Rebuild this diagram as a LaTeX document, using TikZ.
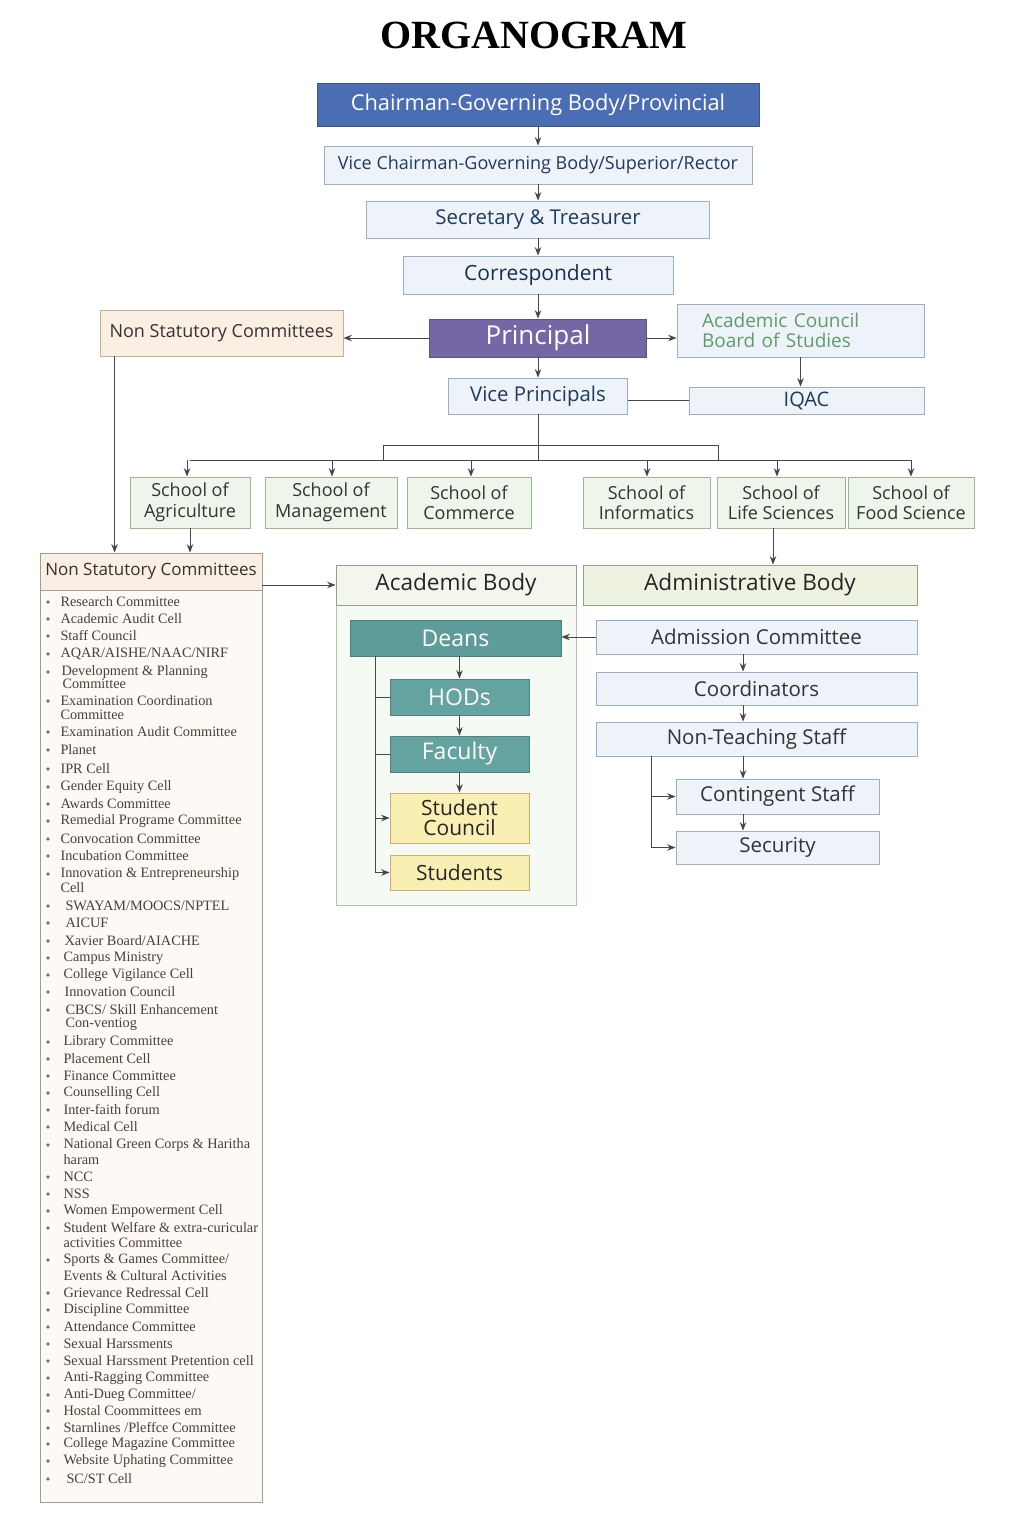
\documentclass[tikz,border=0pt]{standalone}
\usepackage{fontspec}
\setmainfont{Open Sans}
\newfontfamily\listfont{Liberation Serif}
\usepackage{tikz}
\usetikzlibrary{positioning,shapes,arrows,arrows.meta,backgrounds,fit}

\definecolor{chairblue}{HTML}{4A6DB3}
\definecolor{navytext}{HTML}{1F3B5C}
\definecolor{palebox}{HTML}{EEF3F9}
\definecolor{paleline}{HTML}{9AAEC8}
\definecolor{princ}{HTML}{7566A6}
\definecolor{cream}{HTML}{FBEFE4}
\definecolor{tan}{HTML}{C9AD95}
\definecolor{schoolfill}{HTML}{EEF5EA}
\definecolor{schoolline}{HTML}{9AB890}
\definecolor{teal}{HTML}{65A3A1}
\definecolor{tealdark}{HTML}{5E9C9A}
\definecolor{yell}{HTML}{F9EFB3}
\definecolor{yellline}{HTML}{C8B070}
\definecolor{listfill}{HTML}{FDF9F4}
\definecolor{listline}{HTML}{A39C95}
\definecolor{listtext}{HTML}{4A4038}
\definecolor{adminfill}{HTML}{EEF2E0}
\definecolor{acadfill}{HTML}{F4F5EC}
\definecolor{councilgreen}{HTML}{5E9C68}
\definecolor{wire}{HTML}{474747}

\begin{document}
\begin{tikzpicture}[x=1pt, y=-1pt,
    ->,
    >={Stealth[length=8.5pt, width=6.5pt]},
    every path/.style={draw=wire, line width=1pt},
    bb/.style={%
      rectangle, draw=paleline, line width=0.8pt, fill=palebox, text=navytext,
      inner sep=0pt, align=center, font=\fontsize{20}{22}\selectfont
    },
    dark/.style={%
      bb, draw=#1!80!black, fill=#1, text=white
    },
    school/.style={%
      bb, draw=schoolline, fill=schoolfill, text=black!80,
      minimum height=51, font=\fontsize{18}{20.5}\selectfont
    },
    warm/.style={%
      bb, draw=tan, fill=cream, text=black!80, font=\fontsize{18}{20}\selectfont
    },
    sbox/.style={%
      bb, draw=yellline, fill=yell, text=black!85, font=\fontsize{21}{20}\selectfont
    },
    staff/.style={%
      bb, text=black!80, font=\fontsize{20.5}{22}\selectfont
    },
    item/.style={%
      anchor=west, inner sep=0pt, text=listtext, font=\listfont\fontsize{14.3}{15}\selectfont
    }
]
  \useasboundingbox[fill=white, draw=none] (0,0) rectangle (1024,1536);

  \node[inner sep=0pt, font=\listfont\bfseries\fontsize{40}{44}\selectfont] (0) at (534,35) {ORGANOGRAM};

  % top of the chart
  \node[dark=chairblue, minimum width=442, minimum height=43,
        font=\fontsize{21.8}{24}\selectfont] (1) at (538,104.5) {Chairman-Governing Body/Provincial};
  \node[bb, minimum width=428, minimum height=38, font=\fontsize{18}{20}\selectfont] (2) at (538,165) {Vice Chairman-Governing Body/Superior/Rector};
  \node[bb, minimum width=343, minimum height=37, font=\fontsize{20.4}{22}\selectfont] (3) at (538,219.5) {Secretary \& Treasurer};
  \node[bb, minimum width=270, minimum height=38, text=navytext!80!black, font=\fontsize{21}{22}\selectfont] (4) at (538,275) {Correspondent};
  \node[dark=princ, minimum width=217, minimum height=38, font=\fontsize{26}{28}\selectfont] (5) at (538,338) {Principal};
  \node[warm, minimum width=243, minimum height=46] (6) at (221.5,333) {Non Statutory Committees};
  \node[bb, text width=197, inner xsep=25pt, minimum height=53, align=left, text=councilgreen,
        font=\fontsize{19}{20.5}\selectfont] (7) at (800.5,330.5) {Academic Council\\Board of Studies};
  \node[bb, minimum width=179, minimum height=36, font=\fontsize{20.4}{22}\selectfont] (8) at (538,396) {Vice Principals};
  \node[bb, minimum width=235, minimum height=27, font=\fontsize{20}{22}\selectfont] (9) at (806.5,400.5) {IQAC};

  % schools
  \node[school, minimum width=120] (10) at (190,502.5) {School of\\Agriculture};
  \node[school, minimum width=132] (11) at (331,502.5) {School of\\Management};
  \node[school, minimum width=124] (12) at (469,502.5) {School of\\Commerce};
  \node[school, minimum width=127] (13) at (646.5,502.5) {School of\\Informatics};
  \node[school, minimum width=128] (14) at (781,502.5) {School of\\Life Sciences};
  \node[school, minimum width=126] (15) at (911,502.5) {School of\\Food Science};

  % committees list
  \node[rectangle, draw=listline, fill=listfill, line width=0.8pt, minimum width=222, minimum height=949, inner sep=0pt] (16) at (151,1027.5) {};
  \node[warm, draw=listline, minimum width=222, minimum height=37, font=\fontsize{17}{20}\selectfont] (17) at (151,571.5) {Non Statutory Committees};

  \foreach \x/\y/\txt in {60/602/{Research Committee}, 60/619/{Academic Audit Cell}, 60/636/{Staff Council},
      60/654/{AQAR/AISHE/NAAC/NIRF}, 61/672/{Development \& Planning}, 60/701/{Examination Coordination},
      60/732/{Examination Audit Committee}, 60/750/{Planet}, 60/769/{IPR Cell}, 60/787/{Gender Equity Cell},
      60/804/{Awards Committee}, 60/821/{Remedial Programe Committee}, 60/839/{Convocation Committee},
      60/856/{Incubation Committee}, 60/874/{Innovation \& Entrepreneurship}, 65/906/{SWAYAM/MOOCS/NPTEL},
      65/923/{AICUF}, 64/941/{Xavier Board/AIACHE}, 63/958/{Campus Ministry}, 63/975/{College Vigilance Cell},
      64/992/{Innovation Council}, 65/1010/{CBCS/ Skill Enhancement}, 63/1042/{Library Committee},
      63/1059/{Placement Cell}, 63/1076/{Finance Committee}, 63/1093/{Counselling Cell}, 63/1110/{Inter-faith forum},
      63/1127/{Medical Cell}, 63/1145/{National Green Corps \& Haritha}, 63/1177/{NCC}, 63/1194/{NSS},
      63/1211/{Women Empowerment Cell}, 63/1228/{Student Welfare \& extra-curicular},
      63/1260/{Sports \& Games Committee/}, 63/1293/{Grievance Redressal Cell}, 63/1310/{Discipline Committee},
      63/1327/{Attendance Committee}, 63/1344/{Sexual Harssments}, 63/1361/{Sexual Harssment Pretention cell},
      63/1378/{Anti-Ragging Committee}, 63/1395/{Anti-Dueg Committee/}, 63/1411/{Hostal Coommittees em},
      63/1428/{Starnlines /Pleffce Committee}, 63/1444/{College Magazine Committee},
      63/1461/{Website Uphating Committee}, 66/1479/{SC/ST Cell}}
  {
    \fill[listtext!75, draw=none] (48,\y) circle (1.8);
    \node[item] at (\x,\y) {\txt};
  }
  \foreach \x/\y/\txt in {62/684/{Committee}, 60/715/{Committee}, 60/888/{Cell}, 65/1024/{Con-ventiog},
      63/1160/{haram}, 63/1243/{activities Committee}, 63/1276/{Events \& Cultural Activities}}
    \node[item] at (\x,\y) {\txt};

  % academic and administrative bodies
  \node[rectangle, draw=schoolline!80, fill=schoolfill!50, line width=0.8pt, minimum width=240, minimum height=340, inner sep=0pt] (18) at (456,735) {};
  \node[bb, draw=schoolline!90!black, fill=acadfill, text=black!85, minimum width=240, minimum height=40,
        font=\fontsize{22.6}{24}\selectfont] (19) at (456,585) {Academic Body};
  \node[bb, draw=schoolline!90!black, fill=adminfill, text=black!85, minimum width=334, minimum height=40,
        font=\fontsize{22.6}{24}\selectfont] (20) at (750,585) {Administrative Body};

  \node[dark=tealdark, minimum width=211, minimum height=36, font=\fontsize{23}{24}\selectfont] (21) at (455.5,638) {Deans};
  \node[dark=teal, minimum width=139, minimum height=36, font=\fontsize{23}{24}\selectfont] (22) at (459.5,697) {HODs};
  \node[dark=teal, minimum width=139, minimum height=36, font=\fontsize{23}{24}\selectfont] (23) at (459.5,754) {Faculty};
  \node[sbox, minimum width=139, minimum height=50] (24) at (459.5,818) {Student\\Council};
  \node[sbox, minimum width=139, minimum height=35] (25) at (459.5,872.5) {Students};

  \node[staff, minimum width=321, minimum height=34] (26) at (756.5,637) {Admission Committee};
  \node[staff, minimum width=321, minimum height=33] (27) at (756.5,688.5) {Coordinators};
  \node[staff, minimum width=321, minimum height=34] (28) at (756.5,739) {Non-Teaching Staff};
  \node[staff, minimum width=203, minimum height=35] (29) at (777.5,796.5) {Contingent Staff};
  \node[staff, minimum width=203, minimum height=33] (30) at (777.5,847.5) {Security};

  \coordinate (bus) at (538,460);
  \coordinate (rail) at (375,0);
  \coordinate (down) at (743,0);
  \coordinate (side) at (651,0);

  \path (1) edge (2)
        (2) edge (3)
        (3) edge (4)
        (4) edge (5)
        (5) edge (8)
        (22) edge (23)
        (23) edge (24)
  ;
  \draw (5.west) -- (5.west -| 6.east);
  \draw (5.east) -- (5.east -| 7.west);
  \draw (7.south) -- (7.south |- 9.north);
  \draw[-] (9.west) -- (9.west -| 8.east);

  % bus to the schools
  \draw[-] (8.south) -- (bus);
  \draw[-] (383,460) -- (383,445) -- (718,445) -- (718,460);
  \draw[-] (10.north |- bus) -- (15.north |- bus);
  \foreach \n/\x in {10/187, 11/332, 12/471, 13/647, 14/777, 15/911}
    \draw (\x,460) -- (\x,0 |- \n.north);

  \draw (10.south) -- (10.south |- 16.north);
  \draw (773,0 |- 14.south) -- (773,0 |- 20.north);
  \draw ([xshift=15pt]6.south west) -- ([xshift=15pt]6.south west |- 16.north);
  \draw (19.west -| 16.east) -- (19.west);

  % academic side
  \draw (26.west) -- (26.west -| 21.east);
  \draw (22.north |- 21.south) -- (22.north);
  \draw (rail |- 21.south) |- (25.west);
  \draw[-] (rail |- 22.west) -- (22.west);
  \draw[-] (rail |- 23.west) -- (23.west);
  \draw (rail |- 24.west) -- (24.west);

  % administrative side
  \draw (down |- 26.south) -- (down |- 27.north);
  \draw (down |- 27.south) -- (down |- 28.north);
  \draw (down |- 28.south) -- (down |- 29.north);
  \draw (down |- 29.south) -- (down |- 30.north);
  \draw (side |- 28.south) |- (30.west);
  \draw (side |- 29.west) -- (29.west);

\end{tikzpicture}
\end{document}
